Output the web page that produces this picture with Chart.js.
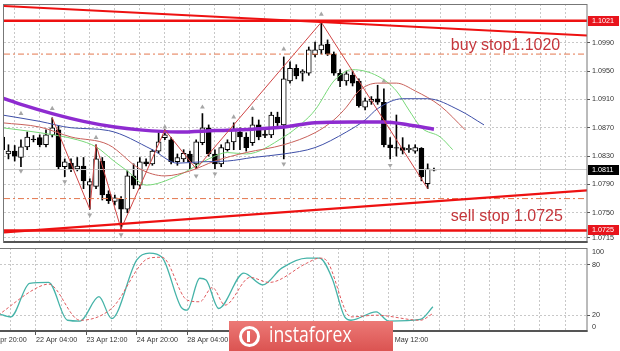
<!DOCTYPE html>
<html>
<head>
<meta charset="utf-8">
<script src="https://cdn.jsdelivr.net/npm/chart.js@4.4.1/dist/chart.umd.min.js"></script>
<style>
  html, body { margin: 0; padding: 0; background: #fff; }
  #wrap { position: relative; width: 620px; height: 351px; overflow: hidden; background: #fff; }
  #main { position: absolute; left: 0; top: 0; }
  #stoch { position: absolute; left: 0; top: 247px; }
  #logo {
    position: absolute; left: 229px; top: 321px; width: 164px; height: 32px;
    background: linear-gradient(#ec7976, #da514f);
  }
  #logo .txt {
    position: absolute; left: 40px; top: 1px; color: #fff;
    font-family: "Open Sans", Arial, sans-serif; font-size: 21px; line-height: 24px;
    transform: scaleX(0.84); transform-origin: 0 0; white-space: nowrap;
  }
  #logo .icon {
    position: absolute; left: 10px; top: 5px; width: 21px; height: 21px;
    border: 3px solid #fff; border-radius: 50%; box-sizing: border-box;
  }
  #logo .icon::after {
    content: ""; position: absolute; left: 5px; top: 2px; width: 3px; height: 11px; background: #fff;
  }
</style>
</head>
<body>
<div id="wrap">
  <canvas id="main" width="620" height="247"></canvas>
  <canvas id="stoch" width="620" height="104"></canvas>
  <div id="logo"><span class="icon"></span><span class="txt">instaforex</span></div>
</div>
<script>
// EURUSD H4, bars counted from 20 Apr 20:00 (bar 0)
const firstBar = 2
const opens = [1.0857,1.0833,1.0837,1.0828,1.0843,1.0854,1.0856,1.0846,1.0860,1.0867,
  1.0815,1.0820,1.0812,1.0816,1.0789,1.0787,1.0823,1.0776,1.0766,1.0769,
  1.0755,1.0802,1.0789,1.0822,1.0819,1.0837,1.0856,1.0853,1.0822,1.0826,
  1.0833,1.0819,1.0849,1.0870,1.0833,1.0819,1.0839,1.0850,1.0864,1.0857,
  1.0849,1.0874,1.0861,1.0860,1.0885,1.0874,1.0936,1.0954,1.0947,1.0947,
  1.0973,1.0980,1.0988,1.0974,1.0947,1.0936,1.0944,1.0936,1.0899,1.0907,
  1.0911,1.0906,1.0846,1.0842,1.0842,1.0839,1.0837,1.0841,1.0791,1.0810]
const highs = [1.0867,1.0846,1.0845,1.0853,1.0864,1.0859,1.0860,1.0867,1.0884,1.0873,
  1.0826,1.0826,1.0828,1.0828,1.0798,1.0846,1.0828,1.0781,1.0775,1.0773,
  1.0809,1.0819,1.0828,1.0826,1.0839,1.0863,1.0867,1.0856,1.0833,1.0839,
  1.0837,1.0853,1.0890,1.0874,1.0839,1.0846,1.0853,1.0877,1.0870,1.0863,
  1.0885,1.0881,1.0867,1.0892,1.0892,1.0970,1.0963,1.0959,1.0952,1.0984,
  1.0991,1.1019,1.0994,1.0977,1.0952,1.0950,1.0950,1.0939,1.0912,1.0914,
  1.0930,1.0925,1.0856,1.0888,1.0856,1.0846,1.0846,1.0842,1.0819,1.0813]
const lows = [1.0830,1.0826,1.0823,1.0815,1.0839,1.0850,1.0843,1.0843,1.0857,1.0812,
  1.0801,1.0808,1.0809,1.0784,1.0755,1.0784,1.0768,1.0763,1.0761,1.0727,
  1.0750,1.0784,1.0784,1.0816,1.0817,1.0834,1.0853,1.0819,1.0817,1.0822,
  1.0812,1.0812,1.0846,1.0830,1.0812,1.0815,1.0837,1.0839,1.0839,1.0837,
  1.0845,1.0853,1.0856,1.0856,1.0873,1.0826,1.0933,1.0939,1.0936,1.0944,
  1.0970,1.0974,1.0972,1.0944,1.0928,1.0930,1.0929,1.0899,1.0895,1.0903,
  1.0903,1.0843,1.0826,1.0830,1.0833,1.0835,1.0834,1.0795,1.0784,1.0809]
const closes = [1.0839,1.0837,1.0830,1.0843,1.0857,1.0853,1.0846,1.0860,1.0870,1.0815,
  1.0822,1.0811,1.0816,1.0795,1.0794,1.0826,1.0775,1.0767,1.0771,1.0755,
  1.0802,1.0789,1.0822,1.0819,1.0837,1.0850,1.0860,1.0822,1.0828,1.0834,
  1.0822,1.0850,1.0870,1.0833,1.0819,1.0842,1.0849,1.0867,1.0857,1.0842,
  1.0874,1.0857,1.0859,1.0888,1.0877,1.0939,1.0954,1.0943,1.0950,1.0980,
  1.0980,1.0987,1.0974,1.0947,1.0936,1.0946,1.0933,1.0901,1.0908,1.0910,
  1.0906,1.0846,1.0842,1.0841,1.0838,1.0841,1.0842,1.0801,1.0812,1.0811]

// moving average (purple) and alligator lines, read at some bars
const maBars = [2,5,10,15,20,24,30,36,42,47,52,58,63,67,71]
const maValues = [1.0912,1.0903,1.0890,1.0879,1.0871,1.0867,1.0864,1.0866,1.0868,1.0871,1.0877,1.0878,1.0878,1.0874,1.0868]
const jawBars = [2,8,13,19,26,30,34,38,42,47,52,57,60,62,66,70,75,79]
const jawValues = [1.0888,1.0879,1.0870,1.0866,1.0839,1.0820,1.0822,1.0823,1.0828,1.0833,1.0842,1.0864,1.0881,1.0897,1.0911,1.0911,1.0895,1.0874]
const teethBars = [2,8,13,19,24,28,32,36,41,47,52,55,57,59,62,65,68,72,76]
const teethValues = [1.0877,1.0871,1.0857,1.0846,1.0812,1.0802,1.0809,1.0823,1.0835,1.0846,1.0863,1.0881,1.0899,1.0922,1.0933,1.0933,1.0922,1.0901,1.0867]
const lipsBars = [2,8,14,17,20,22,25,30,35,38,41,47,50,52,55,57,58,62,65,67,69,72,74]
const lipsValues = [1.0870,1.0863,1.0853,1.0843,1.0822,1.0809,1.0789,1.0802,1.0826,1.0835,1.0833,1.0857,1.0877,1.0895,1.0936,1.0950,1.0952,1.0943,1.0922,1.0895,1.0870,1.0857,1.0839]

// zigzag
const zigBars = [10,16,17,21,28,33,53,70]
const zigValues = [1.0884,1.0755,1.0846,1.0727,1.0867,1.0812,1.1019,1.0784]

// fractals
const fracUpBars = [5,10,17,28,34,39,42,47,53,63]
const fracUpValues = [1.0890,1.0897,1.0856,1.0871,1.0899,1.0885,1.0897,1.0981,1.1030,1.0936]
const fracDnBars = [5,12,16,21,33,36,47,64]
const fracDnValues = [1.0809,1.0794,1.0747,1.0719,1.0802,1.0805,1.0819,1.0817]

// drawn objects
const trendBars = [2, 96]
const upperTrend = [1.1042, 1.1000]
const lowerTrend = [1.0722, 1.0782]
const stopLevels = [1.1021, 1.0725]
const pendingLevels = [1.0974, 1.0770]
const bidPrice = 1.0811
const notes = [
  { text: 'buy stop1.1020', bar: 73.7, price: 1.0980 },
  { text: 'sell stop 1.0725', bar: 73.7, price: 1.0739 }
]

// stochastic
const stochMainBars = [2,4,7,10,13,15,18,20,24,26,28,31,32,34,35,37,41,44,47,51,53,55,57,58,62,64,69,71]
const stochMain = [22,18,58,59,14,13,42,16,86,94,89,30,26,64,62,28,70,56,76,88,88,64,18,14,24,13,15,30]
const stochSigBars = [2,8,10,15,20,26,28,32,34,36,38,42,45,51,53,54,58,62,69,71]
const stochSignal = [20,52,57,14,28,88,89,38,36,53,32,65,59,82,88,86,18,20,14,22]

// axes
const priceTicks = [1.0990, 1.0950, 1.0910, 1.0870, 1.0830, 1.0790, 1.0750, 1.0715]
const timeLabels = ['20 Apr 20:00','22 Apr 04:00','23 Apr 12:00','24 Apr 20:00','28 Apr 04:00','29 Apr 12:00','30 Apr 20:00','4 May 04:00','5 May 12:00']
const stochTickPos = [5.5, 20, 80, 95]
const stochTickLabels = ['0', '20', '80', '100']

const viewFirst = 2.29
const viewLast = 95.46
const priceMin = 1.07073
const priceMax = 1.10447

Chart.defaults.font.family = '"Liberation Sans", Arial, sans-serif'
const gridColor = '#c8c8c8'
const textColor = '#333'
const axisFont = { size: 7.2 }

function pts(xs, ys) {
  return xs.map((x, i) => ({ x: x, y: ys[i] }))
}
function level(v) {
  return [{ x: viewFirst, y: v }, { x: viewLast, y: v }]
}
function buildTimeTicks(scale) {
  const t = []
  for (let v = 0; v <= viewLast; v += 4) t.push({ value: v })
  scale.ticks = t
}
function timeLabel(v) {
  const k = v / 8
  return Number.isInteger(k) && k < timeLabels.length ? timeLabels[k] : ''
}
function fitRight(s) {
  s.width = 33
  s.paddingTop = 0
  s.paddingBottom = 0
}

const candleBars = opens.map((_, i) => firstBar + i)

// chart window frame, bottom edge a bit heavier like the terminal
const framePlugin = {
  id: 'frame',
  afterDraw(chart, args, opts) {
    const { ctx, chartArea: a } = chart
    ctx.save()
    ctx.strokeStyle = '#777'
    ctx.lineWidth = 1
    ctx.strokeRect(a.left - 0.5, a.top + 0.5, a.right - a.left + 0.5, a.bottom - a.top - 1)
    ctx.strokeStyle = '#555'
    ctx.lineWidth = opts.bottom || 1
    ctx.beginPath()
    ctx.moveTo(a.left, a.bottom - ctx.lineWidth / 2)
    ctx.lineTo(a.right + 0.5, a.bottom - ctx.lineWidth / 2)
    ctx.stroke()
    ctx.restore()
  }
}

const overlayPlugin = {
  id: 'overlay',
  afterDraw(chart) {
    const { ctx, chartArea: a, scales: { x, y } } = chart
    ctx.save()
    ctx.font = '16px "Liberation Sans", Arial, sans-serif'
    ctx.fillStyle = '#c5363b'
    ctx.textBaseline = 'alphabetic'
    notes.forEach(n => ctx.fillText(n.text, x.getPixelForValue(n.bar), y.getPixelForValue(n.price)))

    const boxes = [
      { v: stopLevels[0], bg: '#e8141c' },
      { v: stopLevels[1], bg: '#e8141c' },
      { v: bidPrice, bg: '#000' }
    ]
    ctx.font = '7.2px "Liberation Sans", Arial, sans-serif'
    ctx.textBaseline = 'middle'
    boxes.forEach(b => {
      const py = Math.round(y.getPixelForValue(b.v))
      ctx.fillStyle = b.bg
      ctx.fillRect(a.right + 1, py - 5, 31, 10)
      ctx.fillStyle = '#fff'
      ctx.fillText(b.v.toFixed(4), a.right + 5, py + 0.5)
    })
    ctx.restore()
  }
}

new Chart(document.getElementById('main'), {
  type: 'bar',
  data: {
    datasets: [
      { type: 'line', data: pts(trendBars, upperTrend), borderColor: '#ee1111', borderWidth: 2.2, pointRadius: 0, order: 0 },
      { type: 'line', data: pts(trendBars, lowerTrend), borderColor: '#ee1111', borderWidth: 2.2, pointRadius: 0, order: 0 },
      { type: 'line', data: level(stopLevels[0]), borderColor: '#ee1111', borderWidth: 2.5, pointRadius: 0, order: 0 },
      { type: 'line', data: level(stopLevels[1]), borderColor: '#ee1111', borderWidth: 2.5, pointRadius: 0, order: 0 },
      { type: 'line', data: level(pendingLevels[0]), borderColor: '#e4774f', borderWidth: 1, borderDash: [6, 3, 2, 3], pointRadius: 0, order: 0 },
      { type: 'line', data: level(pendingLevels[1]), borderColor: '#e4774f', borderWidth: 1, borderDash: [6, 3, 2, 3], pointRadius: 0, order: 0 },
      { type: 'line', data: level(bidPrice), borderColor: '#c8c8c8', borderWidth: 1, pointRadius: 0, order: 8 },
      { type: 'line', data: pts(zigBars, zigValues), borderColor: '#d04545', borderWidth: 1, pointRadius: 0, order: 1 },
      { type: 'line', data: pts(maBars, maValues), borderColor: '#8e2bd0', borderWidth: 3.5, pointRadius: 0, cubicInterpolationMode: 'monotone', order: 2 },
      { type: 'line', data: pts(jawBars, jawValues), borderColor: '#3e4fa8', borderWidth: 1, pointRadius: 0, cubicInterpolationMode: 'monotone', order: 3 },
      { type: 'line', data: pts(teethBars, teethValues), borderColor: '#c8605a', borderWidth: 1, pointRadius: 0, cubicInterpolationMode: 'monotone', order: 3 },
      { type: 'line', data: pts(lipsBars, lipsValues), borderColor: '#78d878', borderWidth: 1, pointRadius: 0, cubicInterpolationMode: 'monotone', order: 3 },
      { type: 'line', data: pts(fracUpBars, fracUpValues), showLine: false, pointStyle: 'triangle', pointRadius: 2.8, pointBackgroundColor: '#a6a6a6', pointBorderColor: '#a6a6a6', pointBorderWidth: 0, order: 4 },
      { type: 'line', data: pts(fracDnBars, fracDnValues), showLine: false, pointStyle: 'triangle', pointRotation: 180, pointRadius: 2.8, pointBackgroundColor: '#a6a6a6', pointBorderColor: '#a6a6a6', pointBorderWidth: 0, order: 4 },
      {
        data: candleBars.map((b, i) => ({ x: b, y: [lows[i], highs[i]] })),
        backgroundColor: '#000', barThickness: 1, grouped: false, order: 10
      },
      {
        data: candleBars.map((b, i) => ({ x: b, y: [opens[i], closes[i]] })),
        backgroundColor: candleBars.map((b, i) => closes[i] >= opens[i] ? '#fff' : '#000'),
        borderColor: '#000', borderWidth: 1, borderSkipped: false,
        barThickness: 5, grouped: false, order: 9
      }
    ]
  },
  options: {
    responsive: false,
    animation: false,
    events: [],
    layout: { padding: { top: 1, bottom: 1, left: 0, right: 0 } },
    plugins: { legend: { display: false }, tooltip: { enabled: false }, frame: { bottom: 2 } },
    scales: {
      x: {
        type: 'linear', min: viewFirst, max: viewLast, offset: false, bounds: 'data',
        afterBuildTicks: buildTimeTicks,
        afterFit(s) { s.height = 0; s.paddingLeft = 0; s.paddingRight = 0 },
        ticks: { display: false, autoSkip: false },
        grid: { color: gridColor, offset: false, drawTicks: false },
        border: { display: false, dash: [2, 2] }
      },
      y: {
        position: 'right', min: priceMin, max: priceMax, beginAtZero: false, bounds: 'data',
        afterBuildTicks(s) { s.ticks = priceTicks.map(v => ({ value: v })) },
        afterFit: fitRight,
        ticks: { callback: v => v.toFixed(4), color: textColor, font: axisFont, padding: 2 },
        grid: { color: gridColor, tickLength: 3, tickColor: '#555' },
        border: { display: false, dash: [2, 2] }
      }
    }
  },
  plugins: [framePlugin, overlayPlugin]
})

new Chart(document.getElementById('stoch'), {
  type: 'line',
  data: {
    datasets: [
      { data: pts(stochSigBars, stochSignal), borderColor: '#e05a5e', borderWidth: 1, borderDash: [3, 2], pointRadius: 0, cubicInterpolationMode: 'monotone' },
      { data: pts(stochMainBars, stochMain), borderColor: '#45b3a8', borderWidth: 1.3, pointRadius: 0, cubicInterpolationMode: 'monotone' }
    ]
  },
  options: {
    responsive: false,
    animation: false,
    events: [],
    layout: { padding: { top: 1, bottom: 0, left: 0, right: 0 } },
    plugins: { legend: { display: false }, tooltip: { enabled: false }, frame: { bottom: 2 } },
    scales: {
      x: {
        type: 'linear', min: viewFirst, max: viewLast, offset: false, bounds: 'data',
        afterBuildTicks: buildTimeTicks,
        afterFit(s) { s.height = 19; s.paddingLeft = 0; s.paddingRight = 0 },
        ticks: { callback: timeLabel, align: 'start', autoSkip: false, maxRotation: 0, color: textColor, font: axisFont, padding: 1 },
        grid: { color: gridColor, offset: false, tickLength: 3, tickColor: c => timeLabel(c.tick.value) ? '#555' : 'rgba(0,0,0,0)' },
        border: { display: false, dash: [2, 2] }
      },
      y: {
        position: 'right', min: 0, max: 100, bounds: 'data',
        afterBuildTicks(s) { s.ticks = stochTickPos.map(v => ({ value: v })) },
        afterFit: fitRight,
        ticks: { callback: (v, i) => stochTickLabels[i], color: textColor, font: axisFont, padding: 2 },
        grid: {
          color: c => (c.tick.value === 20 || c.tick.value === 80) ? gridColor : 'rgba(0,0,0,0)',
          tickLength: 3,
          tickColor: c => (c.tick.value === 20 || c.tick.value === 80) ? '#555' : 'rgba(0,0,0,0)'
        },
        border: { display: false, dash: [2, 2] }
      }
    }
  },
  plugins: [framePlugin]
})
</script>
</body>
</html>
